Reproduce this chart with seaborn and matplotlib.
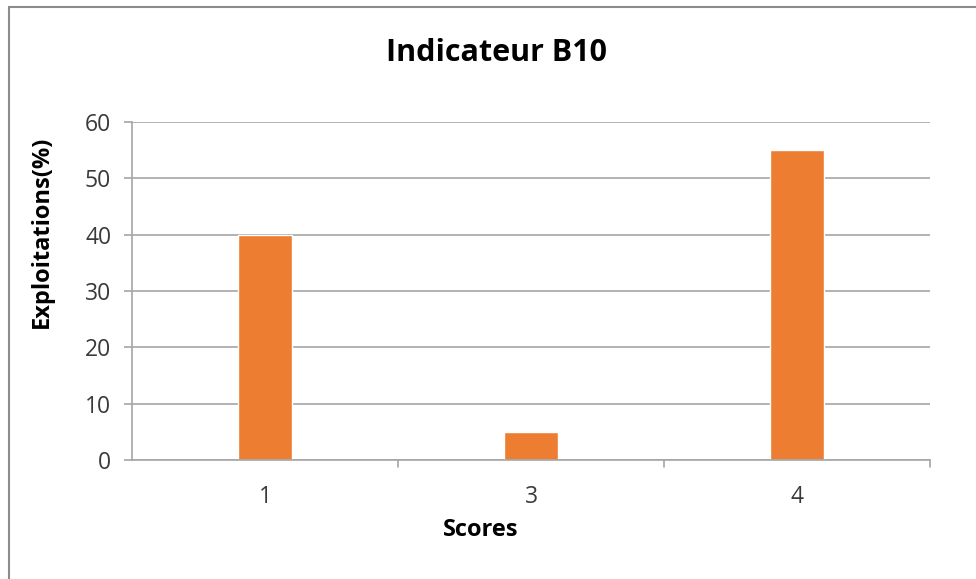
import matplotlib
matplotlib.use("Agg")
import matplotlib.pyplot as plt
from matplotlib.lines import Line2D
import seaborn as sns
import pandas as pd

scores = ["1", "3", "4"]
exploitations = [40, 5, 55]
y_ticks = [0, 10, 20, 30, 40, 50, 60]

sns.set_theme(style="white")
plt.rcParams["font.family"] = ["Open Sans", "DejaVu Sans"]

W, H = 976, 579
fig = plt.figure(figsize=(W / 100, H / 100), dpi=100)
ax = fig.add_axes([132 / W, 1 - 460 / H, (930 - 132) / W, (460 - 122) / H])

df = pd.DataFrame({"Scores": scores, "Exploitations": exploitations})
sns.barplot(data=df, x="Scores", y="Exploitations", order=scores,
            color="#ED7D31", saturation=1, width=0.2, ax=ax)

grid_c = "#A6A6A6"
tick_c = "#3A3A3A"
ax.set_ylim(0, 60)
ax.set_xlim(-0.5, len(scores) - 0.5)
ax.set_yticks(y_ticks)
ax.set_yticklabels([str(v) for v in y_ticks], fontsize=16.5, color=tick_c)
ax.yaxis.grid(True, color=grid_c, linewidth=1.2)
ax.set_axisbelow(True)
for s in ["top", "right"]:
    ax.spines[s].set_visible(False)
ax.spines["left"].set_color(grid_c)
ax.spines["bottom"].set_color(grid_c)
ax.spines["left"].set_linewidth(1.2)
ax.spines["bottom"].set_linewidth(1.2)
ax.tick_params(axis="y", left=True, length=6, width=1.2, color=grid_c, pad=9)
ax.tick_params(axis="x", bottom=False, labelsize=16.5, labelcolor=tick_c, pad=12)

# category boundary tick marks below the x axis
for b in [0.5, 1.5, 2.5]:
    ax.add_line(Line2D([b, b], [0, -1.2], color=grid_c, linewidth=1.2,
                       clip_on=False, transform=ax.transData))

ax.set_xlabel("")
ax.set_ylabel("")
fig.text(497 / W, 1 - 53 / H, "Indicateur B10", ha="center", va="center",
         fontsize=22, fontweight="bold", color="black")
fig.text(42 / W, 1 - 232 / H, "Exploitations(%)", ha="center", va="center",
         rotation=90, fontsize=17, fontweight="bold", color="black")
fig.text(481 / W, 1 - 530 / H, "Scores", ha="center", va="center",
         fontsize=17, fontweight="bold", color="black")

# chart frame (top and left edges visible)
fig.add_artist(Line2D([9 / W, 1], [1 - 7 / H, 1 - 7 / H], color="#8C8C8C",
                      linewidth=1.5, transform=fig.transFigure))
fig.add_artist(Line2D([9 / W, 9 / W], [0, 1 - 7 / H], color="#8C8C8C",
                      linewidth=1.5, transform=fig.transFigure))

fig.savefig("out.png", dpi=100, facecolor="white")
